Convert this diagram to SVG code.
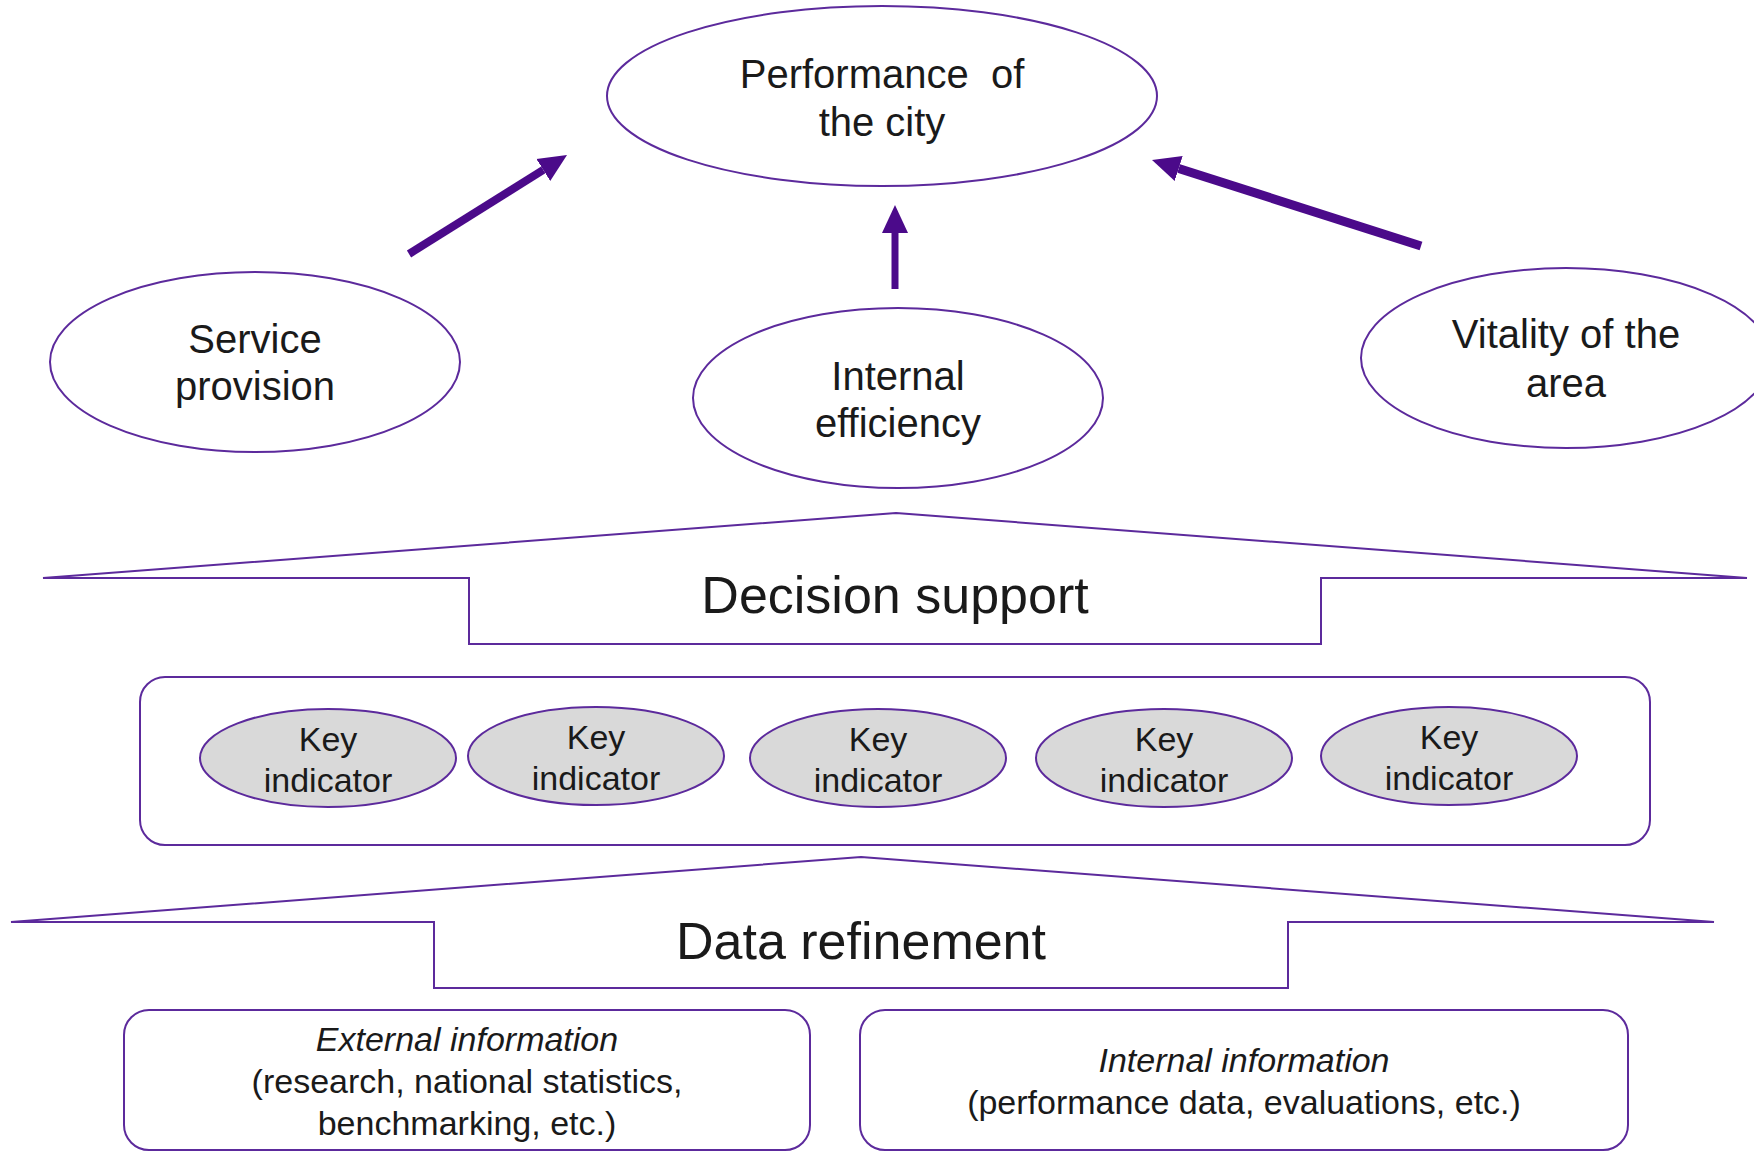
<svg xmlns="http://www.w3.org/2000/svg" width="1754" height="1151" viewBox="0 0 1754 1151">
<defs>
<style>
.ol{fill:#fff;stroke:#5c2a9c;stroke-width:2}
.ki{fill:#d9d9d9;stroke:#5c2a9c;stroke-width:2}
.t{font-family:"Liberation Sans",Arial,sans-serif;fill:#1a1a1a;text-anchor:middle;white-space:pre}
.big{font-size:40px}
.mid{font-size:34px}
.hd{font-size:52px}
.it{font-style:italic}
.arr{stroke:#4b0a8a;fill:none;marker-end:url(#ah)}
</style>
<marker id="ah" markerUnits="userSpaceOnUse" markerWidth="40" markerHeight="40" viewBox="0 -20 40 40" refX="0" refY="0" orient="auto">
<path d="M0,-13 L28,0 L0,13 z" fill="#4b0a8a"/>
</marker>
</defs>
<rect width="1754" height="1151" fill="#fff"/>

<g id="performance">
<ellipse class="ol" cx="882" cy="96" rx="275" ry="90"/>
<text class="t big" x="882" y="88" xml:space="preserve">Performance  of</text>
<text class="t big" x="882" y="136">the city</text>
</g>

<g id="service">
<ellipse class="ol" cx="255" cy="362" rx="205" ry="90"/>
<text class="t big" x="255" y="353">Service</text>
<text class="t big" x="255" y="400">provision</text>
</g>

<g id="internal-efficiency">
<ellipse class="ol" cx="898" cy="398" rx="205" ry="90"/>
<text class="t big" x="898" y="390">Internal</text>
<text class="t big" x="898" y="437">efficiency</text>
</g>

<g id="vitality">
<ellipse class="ol" cx="1566" cy="358" rx="205" ry="90"/>
<text class="t big" x="1566" y="348">Vitality of the</text>
<text class="t big" x="1566" y="397">area</text>
</g>

<g id="connectors">
<line class="arr" x1="409" y1="254" x2="543.3" y2="169.9" stroke-width="8"/>
<line class="arr" x1="895" y1="289" x2="895" y2="233" stroke-width="7"/>
<line class="arr" x1="1421" y1="246" x2="1178.7" y2="168.5" stroke-width="9"/>
</g>

<g id="decision-support">
<path class="ol" d="M896,513 L1747,578 L1321,578 L1321,644 L469,644 L469,578 L43,578 Z"/>
<text class="t hd" x="895" y="613">Decision support</text>
</g>

<g id="key-indicators">
<rect class="ol" x="140" y="677" width="1510" height="168" rx="25" ry="25"/>
<g id="ki1"><ellipse class="ki" cx="328" cy="758" rx="128" ry="49"/><text class="t mid" x="328" y="751">Key</text><text class="t mid" x="328" y="792">indicator</text></g>
<g id="ki2"><ellipse class="ki" cx="596" cy="756" rx="128" ry="49"/><text class="t mid" x="596" y="749">Key</text><text class="t mid" x="596" y="790">indicator</text></g>
<g id="ki3"><ellipse class="ki" cx="878" cy="758" rx="128" ry="49"/><text class="t mid" x="878" y="751">Key</text><text class="t mid" x="878" y="792">indicator</text></g>
<g id="ki4"><ellipse class="ki" cx="1164" cy="758" rx="128" ry="49"/><text class="t mid" x="1164" y="751">Key</text><text class="t mid" x="1164" y="792">indicator</text></g>
<g id="ki5"><ellipse class="ki" cx="1449" cy="756" rx="128" ry="49"/><text class="t mid" x="1449" y="749">Key</text><text class="t mid" x="1449" y="790">indicator</text></g>
</g>

<g id="data-refinement">
<path class="ol" d="M861,857 L1714,922 L1288,922 L1288,988 L434,988 L434,922 L11,922 Z"/>
<text class="t hd" x="861" y="959">Data refinement</text>
</g>

<g id="external-information">
<rect class="ol" x="124" y="1010" width="686" height="140" rx="25" ry="25"/>
<text class="t mid it" x="467" y="1051">External information</text>
<text class="t mid" x="467" y="1093">(research, national statistics,</text>
<text class="t mid" x="467" y="1135">benchmarking, etc.)</text>
</g>

<g id="internal-information">
<rect class="ol" x="860" y="1010" width="768" height="140" rx="25" ry="25"/>
<text class="t mid it" x="1244" y="1072">Internal information</text>
<text class="t mid" x="1244" y="1114">(performance data, evaluations, etc.)</text>
</g>
</svg>
